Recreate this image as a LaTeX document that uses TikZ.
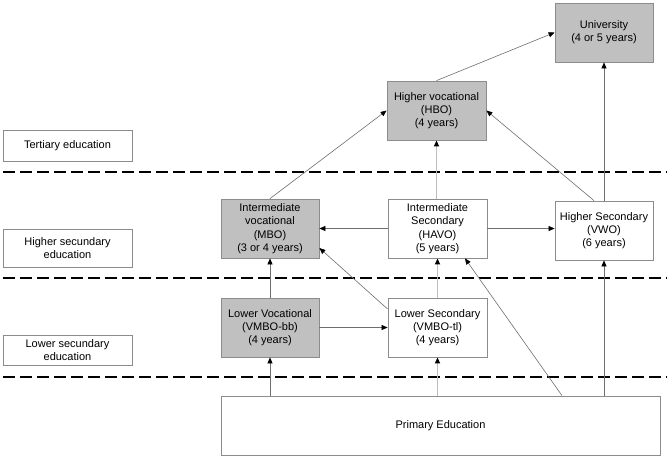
\documentclass[tikz,border=0pt]{standalone}
\usepackage{fontspec}
\setmainfont{Liberation Sans}
\usetikzlibrary{arrows.meta}
\definecolor{boxline}{HTML}{8C8C8C}
\definecolor{boxfill}{HTML}{C0C0C0}
\definecolor{darkline}{HTML}{6E6E6E}
\definecolor{lightline}{HTML}{BDBDBD}
\tikzset{
  box/.style={draw=boxline, line width=0.8pt, fill=white, minimum width=98pt, minimum height=59pt, inner sep=0pt, align=center, font=\fontsize{11}{13.3}\selectfont},
  gbox/.style={box, fill=boxfill},
  lbox/.style={box, minimum width=129pt},
  arr/.style={draw=darkline, line width=0.6pt, -{Triangle[length=6pt,width=5pt,fill=black,color=black]}},
  larr/.style={draw=lightline, line width=1.6pt, -{Triangle[length=6pt,width=5pt,fill=black,color=black]}},
  sep/.style={line width=1.8pt, dash pattern=on 12pt off 5pt}
}
\begin{document}
\begin{tikzpicture}[x=1pt,y=-1pt]
\useasboundingbox (0,0) rectangle (670,459);
% separators
\draw[sep] (3,172) -- (667,172);
\draw[sep] (3,278) -- (667,278);
\draw[sep] (3,377) -- (667,377);
% level labels
\node[lbox, minimum height=31pt] (tert) at (67.5,145.5) {Tertiary education};
\node[lbox, minimum height=38pt] (hse) at (67.5,248) {Higher secundary\\education};
\node[lbox, minimum height=30pt] (lse) at (67.5,350) {Lower secundary\\education};
% boxes
\node[gbox] (univ) at (604,32.5) {University\\(4 or 5 years)};
\node[gbox, minimum width=99pt] (hbo) at (436.5,110.5) {Higher vocational\\(HBO)\\(4 years)};
\node[gbox] (mbo) at (270,228.5) {Intermediate\\vocational\\(MBO)\\(3 or 4 years)};
\node[box, minimum width=99pt] (havo) at (437.5,228.5) {Intermediate\\Secondary\\(HAVO)\\(5 years)};
\node[box] (vwo) at (604,230.5) {Higher Secondary\\(VWO)\\(6 years)};
\node[gbox] (lv) at (270,327.5) {Lower Vocational\\(VMBO-bb)\\(4 years)};
\node[box, minimum width=99pt] (ls) at (437.5,327.5) {Lower Secondary\\(VMBO-tl)\\(4 years)};
\node[box, minimum width=439pt] (prim) at (440.5,425.5) {Primary Education};
% connectors
\draw[arr] (hbo.north) -- (univ.west);
\draw[arr] (vwo.north) -- (univ.south);
\draw[arr] (mbo.north) -- (hbo.west);
\draw[larr] (havo.north -| hbo.south) -- (hbo.south);
\draw[arr] ([xshift=-10pt]vwo.north) -- (hbo.east);
\draw[arr] (havo.west) -- (havo.west -| mbo.east);
\draw[arr] (havo.east) -- (havo.east -| vwo.west);
\draw[arr] ([yshift=18.5pt]ls.west) -- ([yshift=-19.5pt]mbo.east);
\draw[larr] (ls.north) -- (ls.north |- havo.south);
\draw[arr] (lv.north) -- (mbo.south);
\draw[arr] (lv.east) -- (lv.east -| ls.west);
\draw[arr] (prim.north -| lv.south) -- (lv.south);
\draw[larr] (prim.north -| ls.south) -- (ls.south);
\draw[arr] ([xshift=121.5pt]prim.north) -- ([xshift=27.5pt]havo.south);
\draw[arr] (prim.north -| vwo.south) -- (vwo.south);
\end{tikzpicture}
\end{document}
